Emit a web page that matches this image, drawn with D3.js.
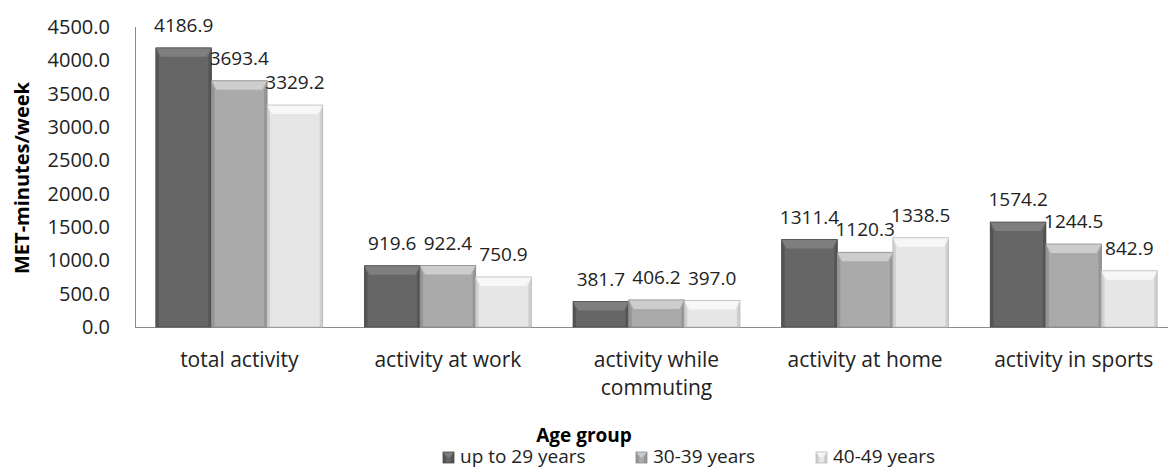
<!DOCTYPE html>
<html>
<head>
<meta charset="utf-8">
<script src="https://cdn.jsdelivr.net/npm/d3@7"></script>
<style>
  body { margin: 0; background: #fff; }
  svg { display: block; font-family: "Open Sans", sans-serif; }
</style>
</head>
<body>
<svg id="chart" width="1168" height="468"></svg>
<script>
const categories = ["total activity", "activity at work", "activity while commuting", "activity at home", "activity in sports"];
const seriesNames = ["up to 29 years", "30-39 years", "40-49 years"];
const upTo29 = [4186.9, 919.6, 381.7, 1311.4, 1574.2];
const age30to39 = [3693.4, 922.4, 406.2, 1120.3, 1244.5];
const age40to49 = [3329.2, 750.9, 397.0, 1338.5, 842.9];
const yTicks = [0, 500, 1000, 1500, 2000, 2500, 3000, 3500, 4000, 4500];

const seriesValues = [upTo29, age30to39, age40to49];
// face, top bevel, side edge
const shades = [
  {face: "#666666", top: "#7f7f7f", edge: "#545454", line: "#4a4a4a"},
  {face: "#aaaaaa", top: "#cdcdcd", edge: "#959595", line: "#8c8c8c"},
  {face: "#e6e6e6", top: "#f7f7f7", edge: "#cfcfcf", line: "#b8b8b8"}
];

const svg = d3.select("#chart");
const baseY = 327, topY = 27, left = 135, right = 1178;

const x0 = d3.scaleBand().domain(categories).range([left, right]).paddingInner(0.2).paddingOuter(0.1);
const x1 = d3.scaleBand().domain(d3.range(3)).range([0, x0.bandwidth()]);
const y = d3.scaleLinear().domain([0, 4500]).range([baseY, topY]);

// axes lines
svg.append("line").attr("x1", left + 0.5).attr("x2", left + 0.5).attr("y1", topY).attr("y2", baseY)
  .attr("stroke", "#8c8c8c");
svg.append("line").attr("x1", left).attr("x2", 1168).attr("y1", baseY + 0.5).attr("y2", baseY + 0.5)
  .attr("stroke", "#8c8c8c");

// y tick labels
svg.append("g").selectAll("text").data(yTicks).join("text")
  .attr("x", 110).attr("y", d => y(d)).attr("dy", "0.35em")
  .attr("text-anchor", "end").attr("font-size", 20).attr("fill", "#222")
  .text(d => d3.format(".1f")(d));

// y title
svg.append("text")
  .attr("transform", "translate(29,178) rotate(-90)")
  .attr("text-anchor", "middle").attr("font-size", 20).attr("font-weight", "bold").attr("fill", "#000")
  .text("MET-minutes/week");

function bevelBar(g, x, yTop, w, h, s) {
  const b = Math.min(9, h / 2), e = 3;
  g.append("rect").attr("x", x).attr("y", yTop).attr("width", w).attr("height", h).attr("fill", s.face);
  g.append("path").attr("fill", s.edge)
    .attr("d", `M${x},${yTop}L${x + e},${yTop + b}L${x + e},${yTop + h}L${x},${yTop + h}Z`);
  g.append("path").attr("fill", s.edge)
    .attr("d", `M${x + w},${yTop}L${x + w - e},${yTop + b}L${x + w - e},${yTop + h}L${x + w},${yTop + h}Z`);
  g.append("path").attr("fill", s.top)
    .attr("d", `M${x},${yTop}L${x + w},${yTop}L${x + w - e - 2},${yTop + b}L${x + e + 2},${yTop + b}Z`);
  g.append("rect").attr("x", x).attr("y", yTop).attr("width", w).attr("height", h)
    .attr("fill", "none").attr("stroke", s.line).attr("stroke-width", 0.8);
}

const groups = svg.append("g").selectAll("g").data(categories).join("g")
  .attr("transform", d => `translate(${x0(d)},0)`);

groups.each(function(cat, ci) {
  const g = d3.select(this);
  seriesValues.forEach((vals, si) => {
    const v = vals[ci];
    bevelBar(g, x1(si), y(v), x1.bandwidth(), baseY - y(v), shades[si]);
  });
  seriesValues.forEach((vals, si) => {
    const v = vals[ci];
    g.append("text")
      .attr("x", x1(si) + x1.bandwidth() / 2).attr("y", y(v) - 16)
      .attr("text-anchor", "middle").attr("font-size", 19).attr("fill", "#222")
      .text(d3.format(".1f")(v));
  });
});

// category labels with wrapping
svg.append("g").selectAll("text").data(categories).join("text")
  .attr("text-anchor", "middle").attr("font-size", 21).attr("fill", "#222")
  .each(function(d) {
    const t = d3.select(this);
    const cx = x0(d) + x0.bandwidth() / 2;
    const lines = d.length > 20 ? ["activity while", "commuting"] : [d];
    lines.forEach((ln, i) => {
      t.append("tspan").attr("x", cx).attr("y", 367 + i * 28).text(ln);
    });
  });

// legend
svg.append("text").attr("x", 584).attr("y", 442).attr("text-anchor", "middle")
  .attr("font-size", 19).attr("font-weight", "bold").attr("fill", "#000").text("Age group");

const legendX = [443, 636, 816];
const leg = svg.append("g").selectAll("g").data(seriesNames).join("g")
  .attr("transform", (d, i) => `translate(${legendX[i]},452)`);
leg.each(function(d, i) {
  bevelBar(d3.select(this), 0, 0, 11, 11, shades[i]);
});
leg.append("text").attr("x", 17).attr("y", 11).attr("font-size", 19).attr("fill", "#222").text(d => d);
</script>
</body>
</html>
